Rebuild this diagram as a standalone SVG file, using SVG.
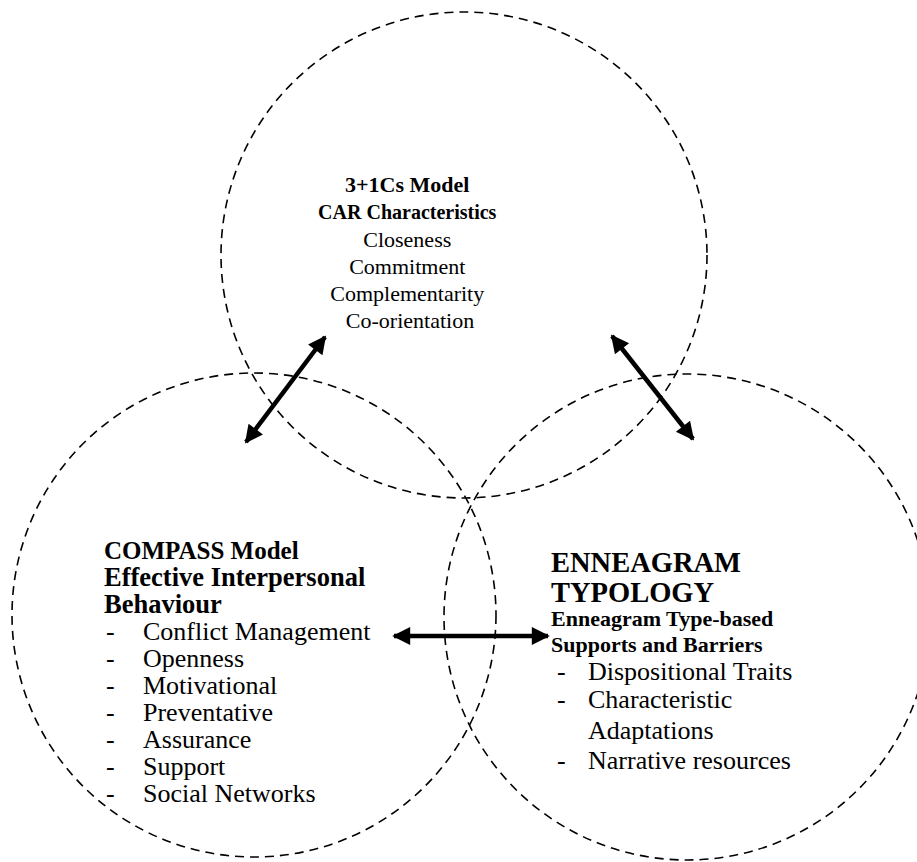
<svg xmlns="http://www.w3.org/2000/svg" width="917" height="862" viewBox="0 0 917 862">
<style>
.c{fill:none;stroke:#000;stroke-width:1.6;stroke-dasharray:9,6}
.t{font-family:"Liberation Serif","Times New Roman",serif;fill:#000}
.b{font-weight:bold}
.a{stroke:#000;stroke-width:4.5;fill:none}
</style>
<defs>
<marker id="ah" viewBox="0 0 10 10" refX="9" refY="5" markerWidth="5" markerHeight="4" orient="auto-start-reverse" markerUnits="strokeWidth">
<path d="M0,0 L10,5 L0,10 z" fill="#000"/>
</marker>
</defs>
<g id="node-top">
<circle class="c" cx="464" cy="255" r="243"/>
<text class="t" text-anchor="middle" font-size="22">
<tspan class="b" x="410" y="192">3+1Cs Model</tspan>
<tspan class="b" x="410" y="219" font-size="20">CAR Characteristics</tspan>
<tspan x="410" y="247">Closeness</tspan>
<tspan x="410" y="274">Commitment</tspan>
<tspan x="410" y="301">Complementarity</tspan>
<tspan x="410" y="328">Co-orientation</tspan>
</text>
</g>
<g id="node-left">
<circle class="c" cx="254" cy="615" r="242"/>
<text class="t" font-size="26">
<tspan class="b" x="104" y="559" font-size="25">COMPASS Model</tspan>
<tspan class="b" x="104" y="586" font-size="26.5">Effective Interpersonal</tspan>
<tspan class="b" x="104" y="613" font-size="26.5">Behaviour</tspan>
</text>
<text class="t" font-size="26">
<tspan x="106" y="640">-</tspan><tspan x="143" y="640">Conflict Management</tspan>
<tspan x="106" y="667">-</tspan><tspan x="143" y="667">Openness</tspan>
<tspan x="106" y="694">-</tspan><tspan x="143" y="694">Motivational</tspan>
<tspan x="106" y="721">-</tspan><tspan x="143" y="721">Preventative</tspan>
<tspan x="106" y="748">-</tspan><tspan x="143" y="748">Assurance</tspan>
<tspan x="106" y="775">-</tspan><tspan x="143" y="775">Support</tspan>
<tspan x="106" y="802">-</tspan><tspan x="143" y="802">Social Networks</tspan>
</text>
</g>
<g id="node-right">
<circle class="c" cx="687" cy="617" r="243"/>
<text class="t" font-size="26">
<tspan class="b" x="551" y="572" font-size="28.5">ENNEAGRAM</tspan>
<tspan class="b" x="551" y="602" font-size="28.5">TYPOLOGY</tspan>
<tspan class="b" x="551" y="626" font-size="22">Enneagram Type-based</tspan>
<tspan class="b" x="551" y="652" font-size="22">Supports and Barriers</tspan>
<tspan x="557" y="680">-</tspan><tspan x="588" y="680">Dispositional Traits</tspan>
<tspan x="557" y="708">-</tspan><tspan x="588" y="708">Characteristic</tspan>
<tspan x="588" y="739">Adaptations</tspan>
<tspan x="557" y="769">-</tspan><tspan x="588" y="769">Narrative resources</tspan>
</text>
</g>
<g id="connectors">
<line class="a" x1="246" y1="442" x2="325" y2="337" marker-start="url(#ah)" marker-end="url(#ah)"/>
<line class="a" x1="612" y1="336" x2="693" y2="439" marker-start="url(#ah)" marker-end="url(#ah)"/>
<line class="a" x1="394" y1="636" x2="548" y2="636" marker-start="url(#ah)" marker-end="url(#ah)"/>
</g>
</svg>
